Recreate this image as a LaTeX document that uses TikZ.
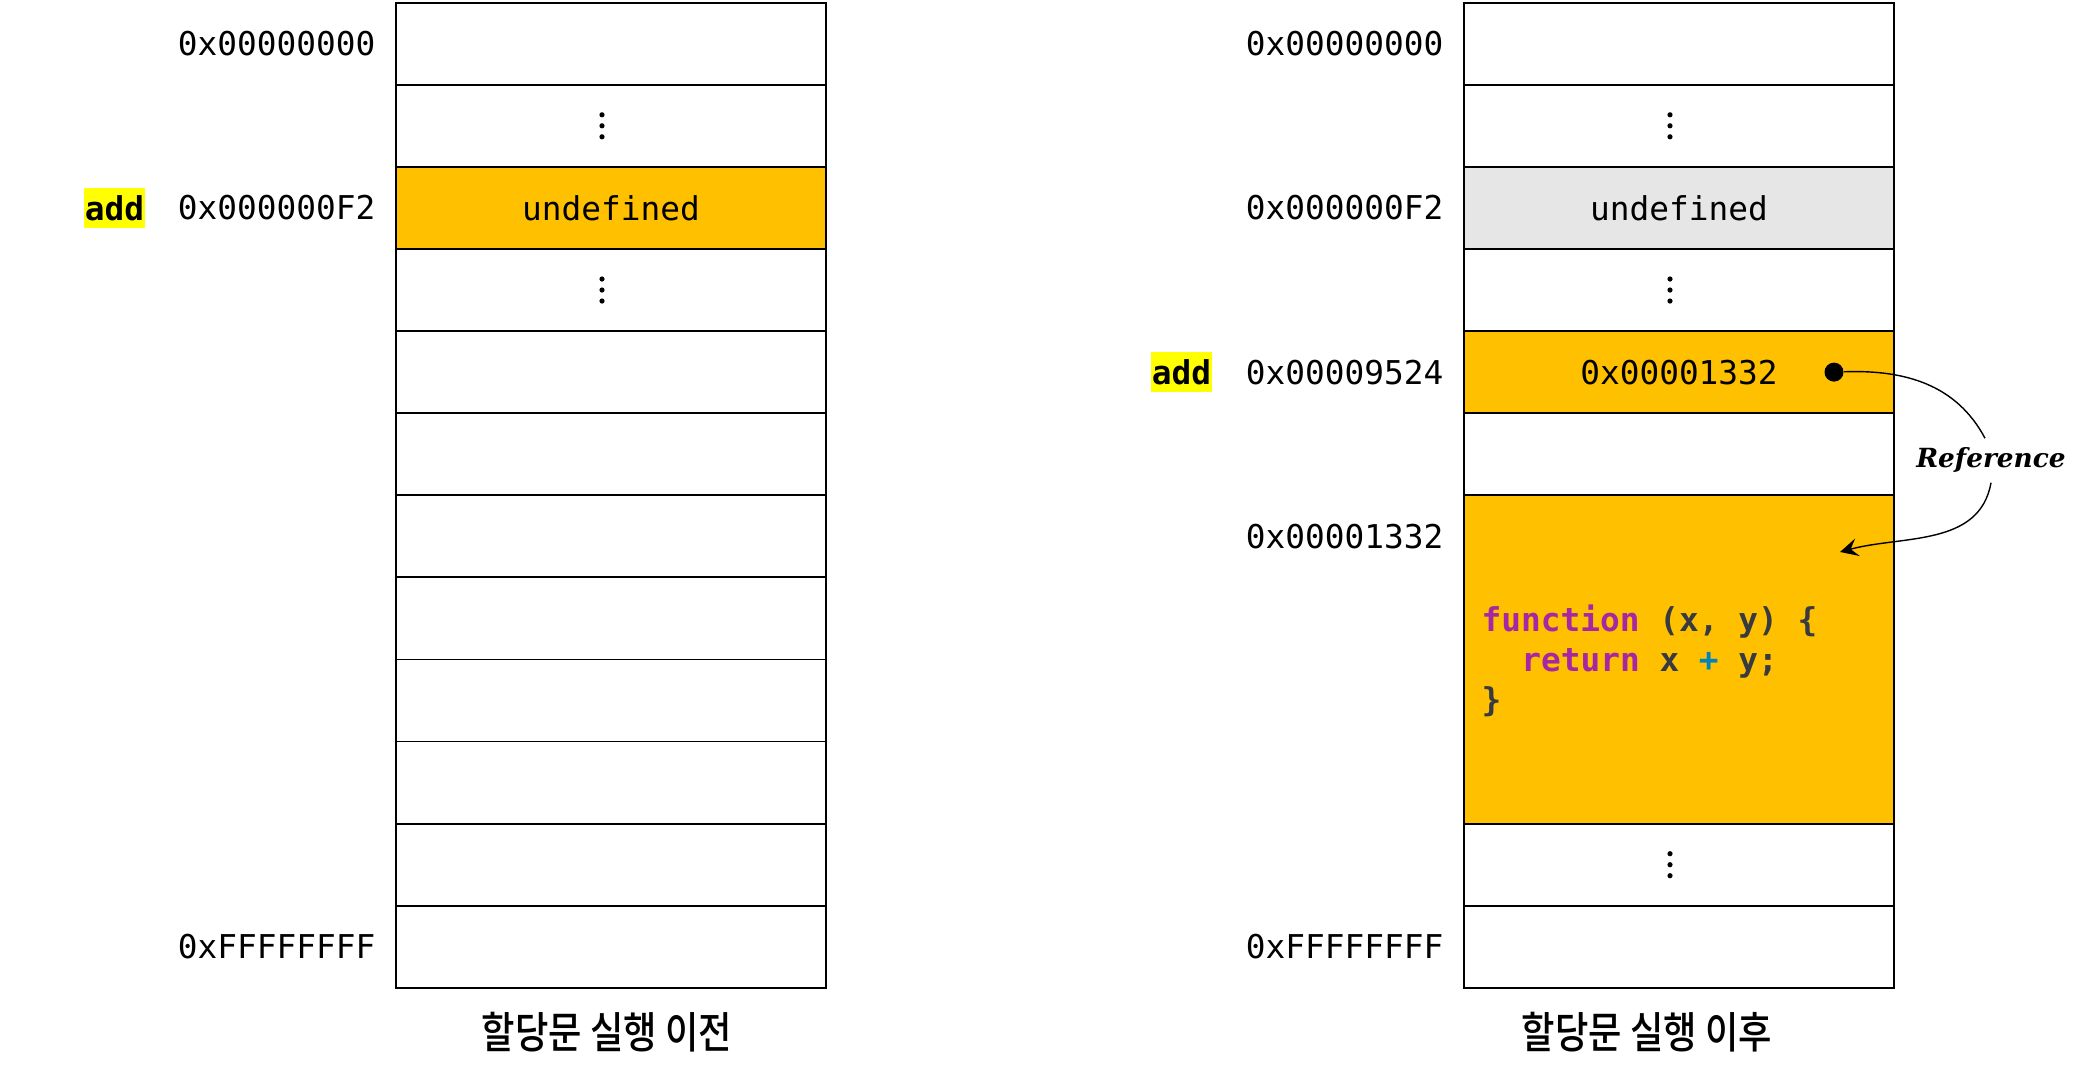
\documentclass[tikz,border=0pt]{standalone}
\usepackage{fontspec}
\usepackage{xcolor}
\usetikzlibrary{arrows.meta}
\usetikzlibrary{math}
\newfontfamily\memfont{DejaVu Sans Mono}
\newfontfamily\krfont[FakeStretch=0.84,UprightFont={* Medium}]{Noto Sans CJK KR}
\newfontfamily\reffont{DejaVu Serif}
\definecolor{myorange}{RGB}{255,192,0}
\definecolor{mygray}{RGB}{230,230,230}
\definecolor{myyellow}{RGB}{255,255,0}
\definecolor{kwpurple}{RGB}{166,38,164}
\definecolor{codegray}{RGB}{56,58,66}
\definecolor{opblue}{RGB}{1,132,188}

\begin{document}
\begin{tikzpicture}[
  memcell/.style={draw=black,line width=0.5pt},
  addrlbl/.style={anchor=east,inner sep=0pt,font=\memfont\fontsize{9.33}{11}\selectfont},
  vallbl/.style={inner sep=0pt,font=\memfont\fontsize{9.33}{11}\selectfont},
  varlbl/.style={fill=myyellow,inner xsep=0.01cm,inner ysep=0pt,minimum height=0.40cm,font=\memfont\bfseries\fontsize{9.33}{11}\selectfont},
  code/.style={anchor=base west,inner sep=0pt,text=codegray,font=\memfont\bfseries\fontsize{9.33}{11}\selectfont},
  capt/.style={inner sep=0pt,font=\krfont\fontsize{12.3}{14}\selectfont},
  ptrdot/.style={circle,fill=black,inner sep=0pt,minimum size=0.19cm},
  reflink/.style={line width=0.4pt},
  memdots/.pic={\foreach \d in {-1,0,1} \fill (0,\d*0.11) circle (0.026);}
]
\tikzmath{
\W=4.30;
\H=0.821;
\ytop=10.783;
\xl=3.96;
\xr=14.64;
}
\useasboundingbox (0,0) rectangle (20.83,10.81);

% before the assignment
\begin{scope}[shift={(\xl,\ytop)}]
\fill[myorange] (0,-2*\H) rectangle +(\W,-\H);
\foreach \i in {0,...,11} \draw[memcell] (0,-\i*\H) rectangle +(\W,-\H);
\pic at (\W/2-0.09,-1.5*\H) {memdots};
\pic at (\W/2-0.09,-3.5*\H) {memdots};
\node[addrlbl] (la0) at (-0.20,-0.5*\H) {0x00000000};
\node[addrlbl] (la2) at (-0.20,-2.5*\H) {0x000000F2};
\node[addrlbl] (la11) at (-0.20,-11.5*\H) {0xFFFFFFFF};
\node[varlbl] (lvar) at (-2.815,-2.5*\H) {add};
\node[vallbl] (lval) at (\W/2,-2.5*\H) {undefined};
\node[capt] (lcap) at (\W/2-0.04,-10.293) {할당문 실행 이전};
\end{scope}

% after the assignment
\begin{scope}[shift={(\xr,\ytop)}]
\fill[mygray] (0,-2*\H) rectangle +(\W,-\H);
\fill[myorange] (0,-4*\H) rectangle +(\W,-\H);
\fill[myorange] (0,-6*\H) rectangle (\W,-10*\H);
\foreach \i in {0,...,5,10,11} \draw[memcell] (0,-\i*\H) rectangle +(\W,-\H);
\draw[memcell] (0,-6*\H) rectangle (\W,-10*\H);
\pic at (\W/2-0.09,-1.5*\H) {memdots};
\pic at (\W/2-0.09,-3.5*\H) {memdots};
\pic at (\W/2-0.09,-10.5*\H) {memdots};
\node[addrlbl] (ra0) at (-0.20,-0.5*\H) {0x00000000};
\node[addrlbl] (ra2) at (-0.20,-2.5*\H) {0x000000F2};
\node[addrlbl] (ra4) at (-0.20,-4.5*\H) {0x00009524};
\node[addrlbl] (ra6) at (-0.20,-6.5*\H) {0x00001332};
\node[addrlbl] (ra11) at (-0.20,-11.5*\H) {0xFFFFFFFF};
\node[varlbl] (rvar) at (-2.825,-4.5*\H) {add};
\node[vallbl] (rval2) at (\W/2,-2.5*\H) {undefined};
\node[vallbl] (rval4) at (\W/2,-4.5*\H) {0x00001332};

\node[code] (code1) at (0.17,-6.293) {{\color{kwpurple}function} (x, y) \{};
\node[code] (code2) at (0.566,-6.693) {{\color{kwpurple}return} x {\color{opblue}+} y;};
\node[code] (code3) at (0.17,-7.093) {\}};

\node[ptrdot] (ptr) at (3.70,-4.5*\H) {};
\node[anchor=base,inner sep=0.09cm,font=\reffont\bfseries\itshape\fontsize{7.5}{9}\selectfont] (reflbl) at (5.27,-4.653) {Reference};
\coordinate (fnbody) at (3.76,-5.493);
\draw[reflink] (ptr) to[out=2,in=118] ([xshift=-0.06cm]reflbl.north);
\draw[reflink,-{Stealth[length=0.18cm,width=0.18cm,inset=0.07cm]}] (reflbl.south) to[out=-100,in=15] (fnbody);

\node[capt] (rcap) at (1.83,-10.293) {할당문 실행 이후};
\end{scope}
\end{tikzpicture}
\end{document}
